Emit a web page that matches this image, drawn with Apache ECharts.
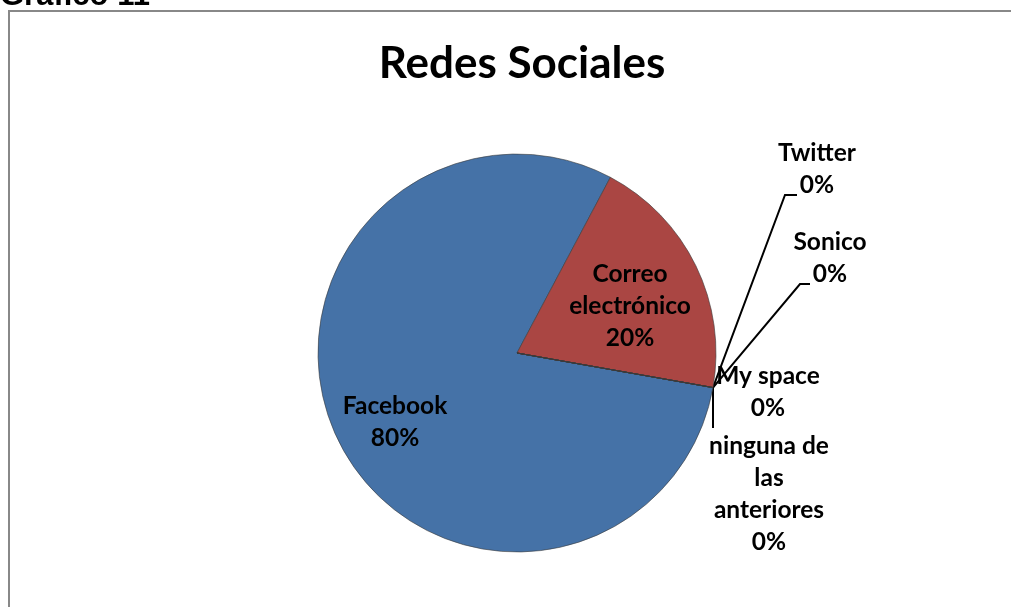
<!DOCTYPE html>
<html>
<head>
<meta charset="utf-8">
<script src="https://cdn.jsdelivr.net/npm/echarts@6/dist/echarts.min.js"></script>
<style>
html,body{margin:0;padding:0;background:#fff;}
#c{width:1011px;height:607px;}
</style>
</head>
<body>
<div id="c"></div>
<script>
const categories = ['Facebook', 'Correo\nelectrónico', 'Twitter', 'Sonico', 'My space', 'ninguna de\nlas\nanteriores'];
const values = [80, 20, 0, 0, 0, 0];
const percentLabels = ['80%', '20%', '0%', '0%', '0%', '0%'];

const FONT = 'Lato';
// label placement (layout only)
const labelPos = [
  {x: 395, y: 422, align: 'center'},
  {x: 630, y: 306, align: 'center'},
  {x: 817, y: 169, align: 'center', line: [[785, 195], [797, 195]]},
  {x: 830, y: 258, align: 'center', line: [[800, 284], [810, 284]]},
  {x: 768, y: 392, align: 'center', line: null},
  {x: 769, y: 494, align: 'center', line: [[713, 428]]}
];

const chart = echarts.init(document.getElementById('c'), null, {renderer: 'canvas'});
chart.setOption({
  backgroundColor: '#fff',
  animation: false,
  title: {
    text: 'Redes Sociales',
    left: 517,
    textAlign: 'center',
    top: 37,
    textStyle: {fontFamily: FONT, fontWeight: 'bold', fontSize: 44, color: '#000'}
  },
  graphic: [
    {type: 'text', x: 0, y: -4, style: {text: 'Gráfico 11', fontFamily: 'Liberation Sans', fontWeight: 'bold', fontSize: 31, fill: '#000', verticalAlign: 'middle', align: 'left'}},
    {type: 'polyline', shape: {points: [[9, 620], [9, 11], [1015, 11]]}, style: {stroke: '#888', lineWidth: 2, fill: null}}
  ],
  series: [{
    type: 'pie',
    center: [517, 353],
    radius: 199,
    startAngle: -10,
    clockwise: true,
    avoidLabelOverlap: false,
    minShowLabelAngle: 0,
    itemStyle: {borderColor: '#3a3a3a', borderWidth: 0.6},
    data: categories.map((c, i) => ({
      name: c,
      value: values[i],
      itemStyle: {color: ['#4572A7', '#AA4643', '#89A54E', '#71588F', '#4198AF', '#DB843D'][i]}
    })),
    label: {
      show: true,
      position: 'outside',
      formatter: p => p.name + '\n' + percentLabels[p.dataIndex],
      fontFamily: FONT,
      fontWeight: 'bold',
      fontSize: 24.5,
      lineHeight: 32,
      color: '#000',
      align: 'center'
    },
    labelLine: {show: true, length: 10, length2: 10, lineStyle: {color: '#000', width: 2}},
    labelLayout: function (params) {
      const lp = labelPos[params.dataIndex];
      const res = {x: lp.x, y: lp.y, align: lp.align, verticalAlign: 'middle'};
      const start = params.labelLinePoints ? params.labelLinePoints[0] : [713, 388];
      if (lp.line) {
        res.labelLinePoints = [start].concat(lp.line);
      } else {
        res.labelLinePoints = [start, start, start];
      }
      return res;
    }
  }]
});
</script>
</body>
</html>
